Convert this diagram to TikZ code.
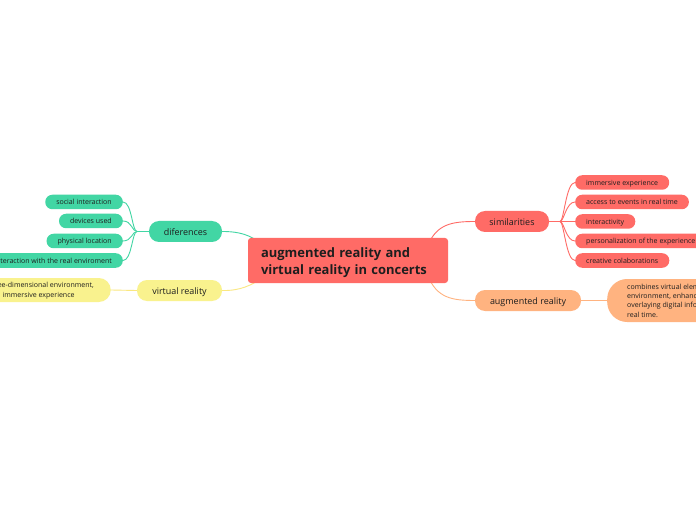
\documentclass[tikz,border=0pt]{standalone}
\usepackage{fontspec}
\setmainfont{Open Sans}
\usetikzlibrary{backgrounds}
\definecolor{cred}{HTML}{FF6B66}
\definecolor{cgreen}{HTML}{42D6A4}
\definecolor{cyellow}{HTML}{F9F28E}
\definecolor{corange}{HTML}{FFB380}
\definecolor{ctxt}{HTML}{1E1E1E}
\tikzset{
  mid/.style={minimum height=21bp, rounded corners=10bp, inner xsep=0, inner ysep=0,
    font=\fontsize{9}{11}\selectfont, text=ctxt, text height=9.2bp, text depth=1.4bp},
  leaf/.style={minimum height=14.5bp, rounded corners=7bp, inner xsep=11bp, inner ysep=0,
    font=\fontsize{7.05}{8}\selectfont, text=ctxt, text height=6.6bp, text depth=1.2bp},
  conn/.style={line width=0.9bp},
}
\begin{document}
\begin{tikzpicture}[x=1bp,y=-1bp]
\useasboundingbox (0,0) rectangle (696,520);
\clip (0,0) rectangle (696,520);
% central
\node[fill=cred, rounded corners=3bp, minimum width=200bp, minimum height=45bp,
  inner xsep=13bp, text width=174bp, align=left, text=ctxt,
  font=\fontsize{13}{18}\selectfont\bfseries] (cen) at (348,260.5)
  {\smash{\raisebox{-5.5bp}{augmented reality and}}\\\smash{\raisebox{-5.5bp}{virtual reality in concerts}}};
% left side
\node[mid, fill=cgreen, minimum width=73bp] (dif) at (185.5,231.5) {diferences};
\node[leaf, fill=cgreen, anchor=east] (soc) at (123,202) {social interaction};
\node[leaf, fill=cgreen, anchor=east] (dev) at (123,221) {devices used};
\node[leaf, fill=cgreen, anchor=east] (phy) at (123,241) {physical location};
\node[leaf, fill=cgreen, anchor=east] (inte) at (123,260.5) {interaction with the real enviroment};
\node[mid, fill=cyellow, minimum width=85bp] (vr) at (179.5,290.5) {virtual reality};
\node[fill=cyellow, anchor=east, minimum height=24bp, rounded corners=12bp,
  inner xsep=17bp, inner ysep=0, align=left, text=ctxt, font=\fontsize{7.05}{10}\selectfont] (vrl) at (111,290)
  {\smash{\raisebox{-2.5bp}{three-dimensional environment,}}\\\smash{\raisebox{-2.5bp}{and immersive experience}}};
% right side
\node[mid, fill=cred, minimum width=74bp] (sim) at (512,221.5) {similarities};
\node[leaf, fill=cred, anchor=west] (s1) at (575,182.5) {immersive experience};
\node[leaf, fill=cred, anchor=west] (s2) at (575,202) {access to events in real time};
\node[leaf, fill=cred, anchor=west] (s3) at (575,221.5) {interactivity};
\node[leaf, fill=cred, anchor=west] (s4) at (575,241) {personalization of the experience};
\node[leaf, fill=cred, anchor=west] (s5) at (575,260.5) {creative colaborations};
\node[mid, fill=corange, minimum width=106bp] (ar) at (528,300.5) {augmented reality};
\node[fill=corange, anchor=west, minimum height=43bp, rounded corners=20bp,
  inner xsep=20bp, inner ysep=0, align=left, text=ctxt, font=\fontsize{7.05}{9.4}\selectfont] (arl) at (607,300.5)
  {combines virtual elements with the real\\environment, enhancing perception by\\overlaying digital information in\\real time.};
% connectors
\coordinate (db) at (137,231.5);
\coordinate (sb) at (560,221.5);
\coordinate (cdif) at (262,244);
\coordinate (cvr) at (262,278);
\coordinate (csim) at (428,245);
\coordinate (car) at (428,276);
\begin{scope}[on background layer]
\fill[white] (0,0) rectangle (696,520);
\draw[conn, cgreen] (dif.east) .. controls (240,231.5) and (250,235) .. (cdif);
\draw[conn, cyellow!90!orange] (vr.east) .. controls (240,291) and (252,285) .. (cvr);
\draw[conn, cred] (sim.west) .. controls (452,221.5) and (437,224) .. (csim);
\draw[conn, corange] (ar.west) .. controls (452,300.5) and (437,298) .. (car);
\draw[conn, cgreen] (dif.west) -- (db);
\foreach \n in {soc,dev,phy,inte}
  \draw[conn, cgreen] (db) .. controls +(-5,0) and +(9,0) .. (\n.east);
\draw[conn, cred] (sim.east) -- (sb);
\foreach \n in {s1,s2,s3,s4,s5}
  \draw[conn, cred] (sb) .. controls +(4,0) and +(-9,0) .. (\n.west);
\draw[conn, cyellow!90!orange] (vr.west) -- (vrl.east);
\draw[conn, corange] (ar.east) -- (arl.west);
\end{scope}
\end{tikzpicture}
\end{document}
